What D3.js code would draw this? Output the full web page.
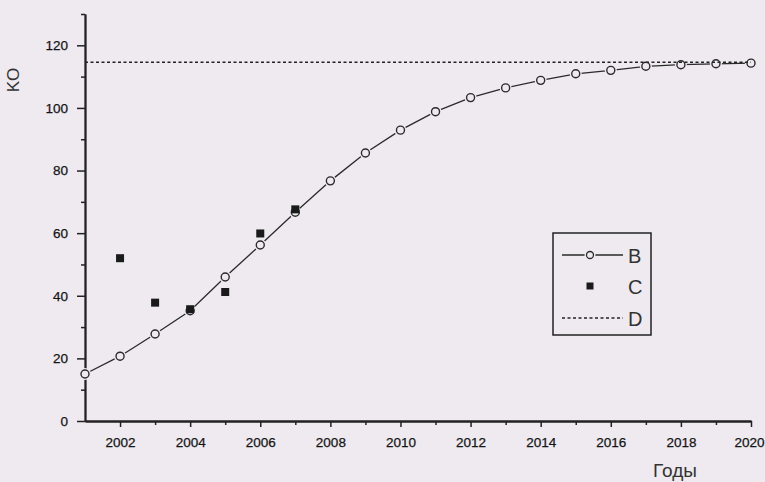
<!DOCTYPE html>
<html>
<head>
<meta charset="utf-8">
<script src="https://cdn.jsdelivr.net/npm/d3@7"></script>
<style>
  html, body { margin: 0; padding: 0; background: #eeeaf0; }
  svg { display: block; }
  .tick text { font-family: "Liberation Sans", Arial, sans-serif; font-size: 13.5px; fill: #151515; stroke: #151515; stroke-width: 0.25px; }
</style>
</head>
<body>
<svg id="chart" width="765" height="482"></svg>
<script>
// Years on the horizontal axis
const years = [2001, 2002, 2003, 2004, 2005, 2006, 2007, 2008, 2009, 2010,
               2011, 2012, 2013, 2014, 2015, 2016, 2017, 2018, 2019, 2020];
// Series B: smooth growth curve (open circles)
const seriesB = [15.0, 20.7, 27.8, 35.2, 46.0, 56.2, 66.7, 76.7, 85.6, 92.9,
                 98.8, 103.3, 106.4, 108.8, 110.9, 112.0, 113.3, 113.8, 114.1, 114.3];
// Series C: observed values (filled squares)
const yearsC = [2002, 2003, 2004, 2005, 2006, 2007];
const seriesC = [52.0, 37.8, 35.7, 41.2, 59.9, 67.6];
// Series D: saturation level (dashed line)
const levelD = 114.6;

const xMajorTicks = [2002, 2004, 2006, 2008, 2010, 2012, 2014, 2016, 2018, 2020];
const xMinorTicks = [2003, 2005, 2007, 2009, 2011, 2013, 2015, 2017, 2019];
const yMajorTicks = [0, 20, 40, 60, 80, 100, 120];
const yMinorTicks = [10, 30, 50, 70, 90, 110, 130];

const legendNames = ["B", "C", "D"];

const ink = "#222";
const bg = "#eeeaf0";

const svg = d3.select("#chart");
const margin = { left: 85, top: 14, right: 14, bottom: 61 };
const W = 765 - margin.left - margin.right;
const H = 482 - margin.top - margin.bottom;

const x = d3.scaleLinear().domain([2001, 2020]).range([0, W]);
const y = d3.scaleLinear().domain([0, 130]).range([H, 0]);

const g = svg.append("g").attr("transform", `translate(${margin.left},${margin.top})`);

// Axes
function styleAxis(sel) {
  sel.selectAll("path, line").attr("stroke", ink).attr("stroke-width", 1.5);
}
g.append("g").attr("transform", `translate(0,${H})`)
  .call(d3.axisBottom(x).tickValues(xMinorTicks).tickSize(4).tickSizeOuter(0).tickFormat(""))
  .call(styleAxis);
const xAxisG = g.append("g").attr("transform", `translate(0,${H})`)
  .call(d3.axisBottom(x).tickValues(xMajorTicks).tickSize(6).tickSizeOuter(0)
        .tickPadding(10).tickFormat(d3.format("d")))
  .call(styleAxis);
// keep the last year label inside the page edge
xAxisG.selectAll(".tick text").filter(d => d === 2020).attr("dx", "-2px");
g.append("g")
  .call(d3.axisLeft(y).tickValues(yMinorTicks).tickSize(4).tickSizeOuter(0).tickFormat(""))
  .call(styleAxis);
g.append("g")
  .call(d3.axisLeft(y).tickValues(yMajorTicks).tickSize(8).tickSizeOuter(0).tickPadding(9))
  .call(styleAxis);
g.selectAll(".domain").attr("stroke-width", 1.8);

// Axis titles
svg.append("text")
  .attr("transform", "translate(19,80) rotate(-90)")
  .attr("text-anchor", "middle")
  .style("font-family", "Liberation Sans, Arial, sans-serif")
  .style("font-size", "17px").attr("fill", "#333")
  .text("KO");
svg.append("text")
  .attr("x", 653).attr("y", 477)
  .style("font-family", "Liberation Sans, Arial, sans-serif")
  .style("font-size", "19px").attr("fill", "#333")
  .text("Годы");

// Series B: line with open circles (a background ring leaves a small gap round each marker)
const bData = years.map((yr, i) => ({ x: yr, y: seriesB[i] }));
g.append("path")
  .datum(bData)
  .attr("fill", "none").attr("stroke", "#2a2a2a").attr("stroke-width", 1.3)
  .attr("d", d3.line().x(d => x(d.x)).y(d => y(d.y)));
g.selectAll(".haloB").data(bData).join("circle")
  .attr("class", "haloB")
  .attr("cx", d => x(d.x)).attr("cy", d => y(d.y)).attr("r", 6)
  .attr("fill", bg);

// Series D: dashed level line
g.append("line")
  .attr("x1", x(2001)).attr("x2", x(2020))
  .attr("y1", y(levelD)).attr("y2", y(levelD))
  .attr("stroke", ink).attr("stroke-width", 1.4)
  .attr("stroke-dasharray", "3,2.5");

g.selectAll(".ptB").data(bData).join("circle")
  .attr("class", "ptB")
  .attr("cx", d => x(d.x)).attr("cy", d => y(d.y)).attr("r", 4)
  .attr("fill", "none").attr("stroke", "#2a2a2a").attr("stroke-width", 1.4);

// Series C: filled squares
const cData = yearsC.map((yr, i) => ({ x: yr, y: seriesC[i] }));
const sq = 8;
g.selectAll(".ptC").data(cData).join("rect")
  .attr("class", "ptC")
  .attr("x", d => x(d.x) - sq / 2).attr("y", d => y(d.y) - sq / 2)
  .attr("width", sq).attr("height", sq)
  .attr("fill", "#1a1a1a");

// Legend
const lg = svg.append("g").attr("transform", "translate(553,233)");
lg.append("rect").attr("width", 98).attr("height", 102)
  .attr("fill", "none").attr("stroke", ink).attr("stroke-width", 1.5);
const rowY = [22, 53, 85];
const sx0 = 9, sx1 = 70, sxm = 37;
// B
lg.append("line").attr("x1", sx0).attr("x2", sx1).attr("y1", rowY[0]).attr("y2", rowY[0])
  .attr("stroke", "#2a2a2a").attr("stroke-width", 1.3);
lg.append("circle").attr("cx", sxm).attr("cy", rowY[0]).attr("r", 5.5).attr("fill", bg);
lg.append("circle").attr("cx", sxm).attr("cy", rowY[0]).attr("r", 3.5)
  .attr("fill", bg).attr("stroke", "#2a2a2a").attr("stroke-width", 1.3);
// C
lg.append("rect").attr("x", sxm - 3.5).attr("y", rowY[1] - 3.5).attr("width", 7).attr("height", 7)
  .attr("fill", "#1a1a1a");
// D
lg.append("line").attr("x1", sx0).attr("x2", sx1).attr("y1", rowY[2]).attr("y2", rowY[2])
  .attr("stroke", ink).attr("stroke-width", 1.4).attr("stroke-dasharray", "3,2.5");
lg.selectAll(".lgText").data(legendNames).join("text")
  .attr("class", "lgText")
  .attr("x", 75).attr("y", (d, i) => rowY[i] + 7.5)
  .style("font-family", "Liberation Sans, Arial, sans-serif")
  .style("font-size", "20px").attr("fill", "#333")
  .text(d => d);
</script>
</body>
</html>
